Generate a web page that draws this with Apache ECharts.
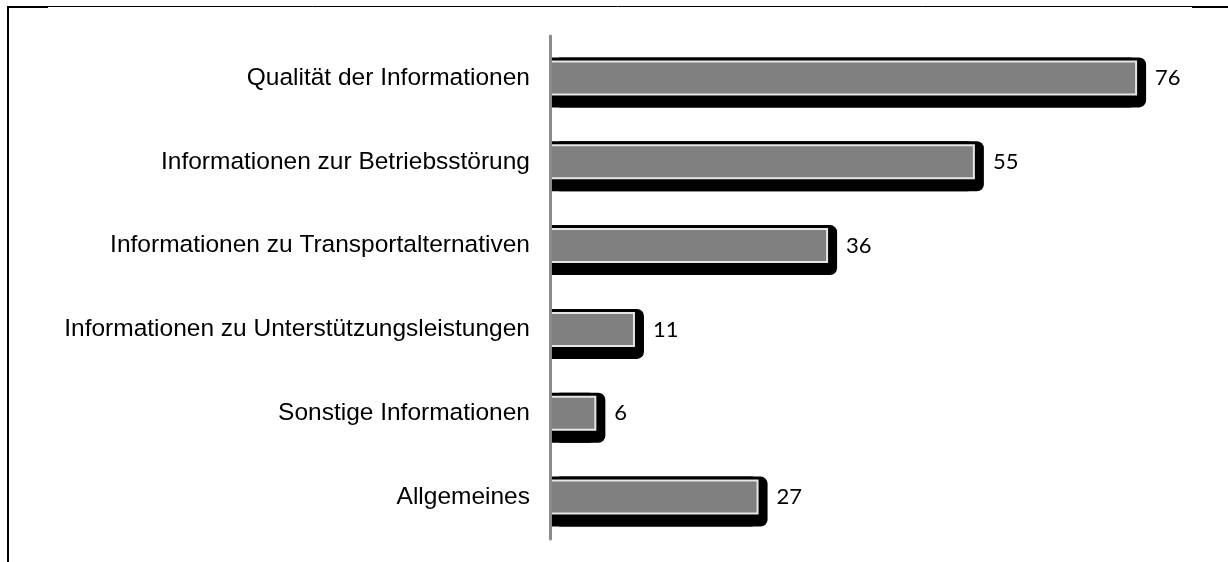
<!DOCTYPE html>
<html>
<head>
<meta charset="utf-8">
<script src="https://cdn.jsdelivr.net/npm/echarts@6/dist/echarts.min.js"></script>
<style>
  html, body { margin: 0; padding: 0; background: #fff; }
  #main { width: 1228px; height: 562px; }
</style>
</head>
<body>
<div id="main"></div>
<script>
// Kategorien und Werte
var categories = [
  'Qualität der Informationen',
  'Informationen zur Betriebsstörung',
  'Informationen zu Transportalternativen',
  'Informationen zu Unterstützungsleistungen',
  'Sonstige Informationen',
  'Allgemeines'
];
var values = [76, 55, 36, 11, 6, 27];

var chartDom = document.getElementById('main');
var myChart = echarts.init(chartDom);

var option = {
  animation: false,
  grid: [
    { left: 550, top: 36, width: 618, height: 503 },
    // etwas nach unten versetzt, für den Schattenbalken
    { left: 550, top: 40.5, width: 618, height: 503 }
  ],
  xAxis: [
    { type: 'value', gridIndex: 0, min: 0, max: 80, show: false },
    { type: 'value', gridIndex: 1, min: 0, max: 80, show: false }
  ],
  yAxis: [
    {
      type: 'category',
      gridIndex: 0,
      data: categories,
      inverse: true,
      z: 5,
      axisLine: { show: true, lineStyle: { color: '#8c8c8c', width: 3 } },
      axisTick: { show: false },
      axisLabel: {
        margin: 20,
        color: '#000',
        fontFamily: 'Liberation Sans, Arial, sans-serif',
        fontSize: 24.5
      }
    },
    {
      type: 'category',
      gridIndex: 1,
      data: categories,
      inverse: true,
      show: false
    }
  ],
  series: [
    {
      // schwarzer Schatten hinter dem Balken
      type: 'bar',
      xAxisIndex: 1,
      yAxisIndex: 1,
      data: values,
      barWidth: 50,
      silent: true,
      z: 1,
      itemStyle: {
        color: '#000',
        borderRadius: [0, 7, 7, 0],
        shadowColor: '#000',
        shadowBlur: 0,
        shadowOffsetX: 9,
        shadowOffsetY: 0
      }
    },
    {
      type: 'bar',
      xAxisIndex: 0,
      yAxisIndex: 0,
      data: values,
      barWidth: 35,
      z: 3,
      itemStyle: {
        color: '#808080',
        borderColor: '#e6e6e6',
        borderWidth: 2
      },
      label: {
        show: true,
        position: 'right',
        distance: 18,
        color: '#000',
        fontFamily: 'Lato, Open Sans, sans-serif',
        fontSize: 22
      }
    }
  ],
  graphic: [
    // Rahmenlinien
    { type: 'line', shape: { x1: 7, y1: 6.5, x2: 1228, y2: 6.5 }, style: { stroke: '#000', lineWidth: 1 } },
    { type: 'line', shape: { x1: 7, y1: 7, x2: 48, y2: 7 }, style: { stroke: '#000', lineWidth: 2 } },
    { type: 'line', shape: { x1: 1192, y1: 7, x2: 1228, y2: 7 }, style: { stroke: '#000', lineWidth: 2 } },
    { type: 'line', shape: { x1: 8, y1: 6, x2: 8, y2: 562 }, style: { stroke: '#000', lineWidth: 2 } }
  ]
};

myChart.setOption(option);
</script>
</body>
</html>
